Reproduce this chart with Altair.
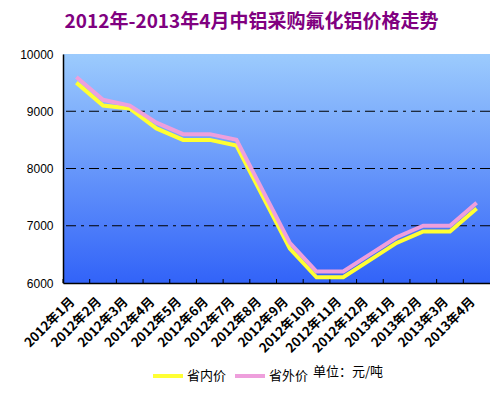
import altair as alt
import pandas as pd

months = ["2012年1月", "2012年2月", "2012年3月", "2012年4月", "2012年5月", "2012年6月",
          "2012年7月", "2012年8月", "2012年9月", "2012年10月", "2012年11月", "2012年12月",
          "2013年1月", "2013年2月", "2013年3月", "2013年4月"]
inner_price = [9500, 9100, 9050, 8700, 8500, 8500, 8400, 7500, 6600, 6100, 6100, 6400, 6700, 6900, 6900, 7300]
outer_price = [9600, 9200, 9100, 8800, 8600, 8600, 8500, 7600, 6700, 6200, 6200, 6500, 6800, 7000, 7000, 7400]
series = ["省内价", "省外价"]
series_colors = ["#ffff33", "#ee9fdc"]
y_ticks = [6000, 7000, 8000, 9000, 10000]
grid_values = [7000, 8000, 9000]
title_text = "2012年-2013年4月中铝采购氟化铝价格走势"
unit_text = "单位：元/吨"

W, H = 427, 229

df = pd.DataFrame({
    "月份": months * 2,
    "价格": inner_price + outer_price,
    "系列": [series[0]] * len(months) + [series[1]] * len(months),
})
grid_df = pd.DataFrame({"v": grid_values})

x_scale = alt.Scale(domain=months, paddingInner=0, paddingOuter=0)
y_scale = alt.Scale(domain=[6000, 10000], nice=False, zero=False)

x_axis = alt.Axis(title=None, labelAngle=-45, labelAlign="right", labelBaseline="top",
                  labelFont="Noto Sans CJK SC", labelFontSize=13, labelFontWeight="bold",
                  labelColor="black", ticks=False, domainColor="black", domainWidth=1.5,
                  labelPadding=12, labelOffset=-8, zindex=1)
y_axis = alt.Axis(title=None, values=y_ticks, format="d", grid=False, ticks=False,
                  labelFont="Liberation Sans", labelFontSize=12, labelColor="black",
                  labelPadding=10, domainColor="black", domainWidth=1.5, zindex=1)

bg = alt.Chart(alt.Data(values=[{}])).mark_rect(
    color=alt.LinearGradient(
        gradient="linear", x1=0, y1=0, x2=0, y2=1,
        stops=[alt.GradientStop(color="#9ccbfd", offset=0),
               alt.GradientStop(color="#3263f8", offset=1)]
    )
).encode(x=alt.value(0), x2=alt.value(W), y=alt.value(0), y2=alt.value(H))

grid = alt.Chart(grid_df).mark_rule(color="black", strokeWidth=1, strokeDash=[10, 5, 3, 5]).encode(
    y=alt.Y("v:Q", scale=y_scale, axis=y_axis)
)

ticks = alt.Chart(pd.DataFrame({"月份": months})).mark_rule(color="black", strokeWidth=1).encode(
    x=alt.X("月份:N", scale=x_scale, sort=months, bandPosition=0, axis=x_axis),
    y=alt.value(H - 4), y2=alt.value(H)
)

lines = alt.Chart(df).mark_line(strokeWidth=4).encode(
    x=alt.X("月份:N", scale=x_scale, sort=months, axis=x_axis),
    y=alt.Y("价格:Q", scale=y_scale, axis=y_axis),
    color=alt.Color("系列:N", scale=alt.Scale(domain=series, range=series_colors),
                    legend=alt.Legend(title=unit_text, titleOrient="right", orient="none",
                                      direction="horizontal", legendX=88, legendY=305,
                                      symbolType="stroke", symbolSize=900, symbolStrokeWidth=4,
                                      labelFont="Noto Sans CJK SC", labelFontSize=13,
                                      labelColor="black", titleFont="Noto Sans CJK SC",
                                      titleFontSize=13, titleFontWeight="normal",
                                      titleColor="black", columnPadding=0, labelOffset=2,
                                      titlePadding=5, titleBaseline="middle")),
    order=alt.Order("系列:N"),
)

chart = alt.layer(bg, grid, ticks, lines).properties(
    width=W, height=H,
    title=alt.TitleParams(title_text, font="Noto Sans CJK SC", fontSize=19, fontWeight="bold",
                          color="#800080", anchor="middle", dx=-25, offset=16),
    autosize=alt.AutoSizeParams(type="none"),
    padding={"left": 55, "top": 46, "right": 0, "bottom": 106},
).configure_view(stroke="#808080", strokeWidth=1).configure(background="white")

chart.save("out.html", embed_options={"renderer": "svg", "actions": False})
